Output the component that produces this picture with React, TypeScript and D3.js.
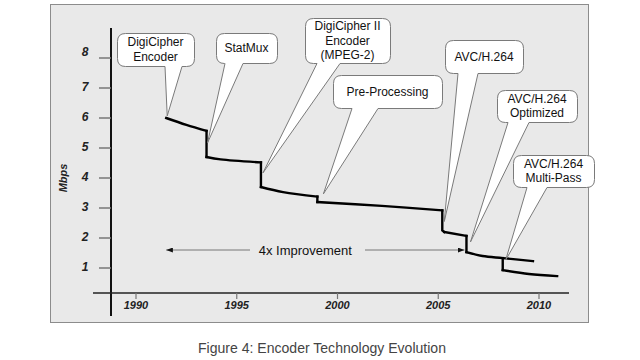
import React from "react";
import * as d3 from "d3";

// ---- data ----
const yearTicks = [1990, 1995, 2000, 2005, 2010];
const mbpsTicks = [1, 2, 3, 4, 5, 6, 7, 8];

// curved segments of bitrate over time (year, Mbps)
const curveYears = [
  [1991.5, 1992.5, 1993.5],
  [1993.5, 1994.2, 1996.2],
  [1996.2, 1997.3, 1999.0],
  [1999.0, 2002.2, 2005.2],
  [2005.3, 2006.4],
  [2006.4, 2007.2, 2008.2, 2009.7],
  [2008.2, 2009.5, 2010.9],
];
const curveMbps = [
  [6.0, 5.77, 5.57],
  [4.7, 4.62, 4.52],
  [3.7, 3.53, 3.38],
  [3.2, 3.07, 2.92],
  [2.2, 2.07],
  [1.53, 1.4, 1.33, 1.23],
  [0.93, 0.8, 0.73],
];
// vertical drops when a new technology arrives
const dropYears = [1993.5, 1996.2, 1999.0, 2005.2, 2006.4, 2008.2];
const dropFrom = [5.57, 4.52, 3.38, 2.92, 2.07, 1.33];
const dropTo = [4.7, 3.7, 3.2, 2.25, 1.53, 0.93];

// callouts
const calloutLabels = [
  ["DigiCipher", "Encoder"],
  ["StatMux"],
  ["DigiCipher II", "Encoder", "(MPEG-2)"],
  ["Pre-Processing"],
  ["AVC/H.264"],
  ["AVC/H.264", "Optimized"],
  ["AVC/H.264", "Multi-Pass"],
];
const calloutTipYears = [1991.55, 1993.55, 1996.3, 1999.3, 2005.3, 2006.6, 2008.35];
const calloutTipMbps = [6.07, 5.17, 4.17, 3.47, 2.55, 1.87, 1.27];

const improvementLabel = "4x Improvement";
const improvementFrom = 1991.5;
const improvementTo = 2006.3;
const improvementMbps = 1.6;

const caption = "Figure 4: Encoder Technology Evolution";
const yTitle = "Mbps";

// ---- layout (pixels) ----
const boxes = [
  { x: 117, y: 33, w: 77, h: 33, b1: 165, b2: 182 },
  { x: 216, y: 33, w: 61, h: 30, b1: 225, b2: 243 },
  { x: 305, y: 18, w: 85, h: 45, b1: 317, b2: 340 },
  { x: 333, y: 75, w: 109, h: 33, b1: 352, b2: 378 },
  { x: 445, y: 40, w: 78, h: 33, b1: 458, b2: 478 },
  { x: 497, y: 90, w: 80, h: 32, b1: 508, b2: 529 },
  { x: 513, y: 155, w: 81, h: 32, b1: 527, b2: 547 },
];

function bubblePath(bx: number, by: number, w: number, h: number, b1: number, b2: number, tx: number, ty: number) {
  const r = 8;
  return [
    `M${bx + r},${by}`,
    `H${bx + w - r}`,
    `Q${bx + w},${by} ${bx + w},${by + r}`,
    `V${by + h - r}`,
    `Q${bx + w},${by + h} ${bx + w - r},${by + h}`,
    `H${b2}`,
    `L${tx},${ty}`,
    `L${b1},${by + h}`,
    `H${bx + r}`,
    `Q${bx},${by + h} ${bx},${by + h - r}`,
    `V${by + r}`,
    `Q${bx},${by} ${bx + r},${by}`,
    "Z",
  ].join(" ");
}

export default function App() {
  const W = 640, H = 360;
  const x = d3.scaleLinear().domain([1990, 2010]).range([136, 539]);
  const y = d3.scaleLinear().domain([0, 8]).range([298, 58]);
  const axisY = 293;
  const axisX = 111;

  const curveGen = d3
    .line<[number, number]>()
    .x((d) => x(d[0]))
    .y((d) => y(d[1]))
    .curve(d3.curveCatmullRom.alpha(0.5));
  const lineGen = d3
    .line<[number, number]>()
    .x((d) => x(d[0]))
    .y((d) => y(d[1]));

  const font = "'Liberation Sans', Arial, Helvetica, sans-serif";

  return (
    <svg
      width={W}
      height={H}
      style={{ position: "absolute", left: 0, top: 0, background: "#fff" }}
      fontFamily={font}
    >
      <rect x={0} y={0} width={W} height={H} fill="#fff" />
      <rect x={50.5} y={4.5} width={538} height={318} fill="#e9e9e9" stroke="#8c8c8c" strokeWidth={1} />

      {/* y axis */}
      <line x1={axisX} x2={axisX} y1={28} y2={316} stroke="#111" strokeWidth={2} />
      {mbpsTicks.map((v) => (
        <g key={v}>
          <line x1={99} x2={axisX} y1={y(v)} y2={y(v)} stroke="#777" strokeWidth={1.5} />
          <text
            x={85}
            y={y(v) - (v === 8 ? 6 : 1)}
            dy="0.35em"
            textAnchor="middle"
            fontSize={12}
            fontWeight="bold"
            fontStyle="italic"
            fill="#222"
          >
            {v}
          </text>
        </g>
      ))}
      <text
        transform={`translate(63,178) rotate(-90)`}
        textAnchor="middle"
        dy="0.35em"
        fontSize={11}
        fontWeight="bold"
        fontStyle="italic"
        fill="#222"
      >
        {yTitle}
      </text>

      {/* x axis */}
      <line x1={93} x2={569} y1={axisY} y2={axisY} stroke="#222" strokeWidth={1.5} />
      {yearTicks.map((t) => (
        <g key={t}>
          <line x1={x(t)} x2={x(t)} y1={axisY} y2={axisY + 6} stroke="#777" strokeWidth={1.2} />
          <text
            x={x(t)}
            y={305}
            dy="0.35em"
            textAnchor="middle"
            fontSize={11}
            fontWeight="bold"
            fontStyle="italic"
            fill="#222"
          >
            {t}
          </text>
        </g>
      ))}

      {/* 4x improvement arrow */}
      <defs>
        <marker id="ah" viewBox="0 0 8 6" refX={8} refY={3} markerWidth={7} markerHeight={5} orient="auto-start-reverse" markerUnits="userSpaceOnUse">
          <path d="M0,0 L8,3 L0,6 Z" fill="#111" />
        </marker>
      </defs>
      <line
        x1={x(improvementFrom)}
        x2={250}
        y1={y(improvementMbps)}
        y2={y(improvementMbps)}
        stroke="#777"
        strokeWidth={1}
        markerStart="url(#ah)"
      />
      <line
        x1={365}
        x2={x(improvementTo)}
        y1={y(improvementMbps)}
        y2={y(improvementMbps)}
        stroke="#777"
        strokeWidth={1}
        markerEnd="url(#ah)"
      />
      <text
        x={(x(improvementFrom) + x(improvementTo)) / 2 - 10}
        y={y(improvementMbps)}
        dy="0.35em"
        textAnchor="middle"
        fontSize={13}
        fill="#111"
      >
        {improvementLabel}
      </text>

      {/* data line */}
      {curveYears.map((ys, i) => (
        <path
          key={"c" + i}
          d={curveGen(ys.map((yr, j) => [yr, curveMbps[i][j]] as [number, number])) || ""}
          fill="none"
          stroke="#000"
          strokeWidth={2.4}
          strokeLinecap="square"
        />
      ))}
      {dropYears.map((yr, i) => (
        <path
          key={"d" + i}
          d={lineGen([[yr, dropFrom[i]], [yr, dropTo[i]], ...(i === 3 ? [[2005.3, 2.2] as [number, number]] : [])]) || ""}
          fill="none"
          stroke="#000"
          strokeWidth={2.4}
          strokeLinecap="square"
        />
      ))}

      {/* callouts */}
      {calloutLabels.map((lines, i) => {
        const b = boxes[i];
        const tx = x(calloutTipYears[i]);
        const ty = y(calloutTipMbps[i]);
        const lh = 14.5;
        const cy = b.y + b.h / 2 - ((lines.length - 1) * lh) / 2;
        return (
          <g key={"b" + i}>
            <path
              d={bubblePath(b.x + 0.5, b.y + 0.5, b.w, b.h, b.b1, b.b2, tx, ty)}
              fill="#fff"
              stroke="#7a7a7a"
              strokeWidth={1}
            />
            {lines.map((ln, k) => (
              <text
                key={k}
                x={b.x + b.w / 2}
                y={cy + k * lh}
                dy="0.35em"
                textAnchor="middle"
                fontSize={12}
                fill="#111"
              >
                {ln}
              </text>
            ))}
          </g>
        );
      })}

      {/* caption */}
      <text x={322} y={348} dy="0.35em" textAnchor="middle" fontSize={14} fill="#444" textLength={248} lengthAdjust="spacingAndGlyphs">
        {caption}
      </text>
    </svg>
  );
}
